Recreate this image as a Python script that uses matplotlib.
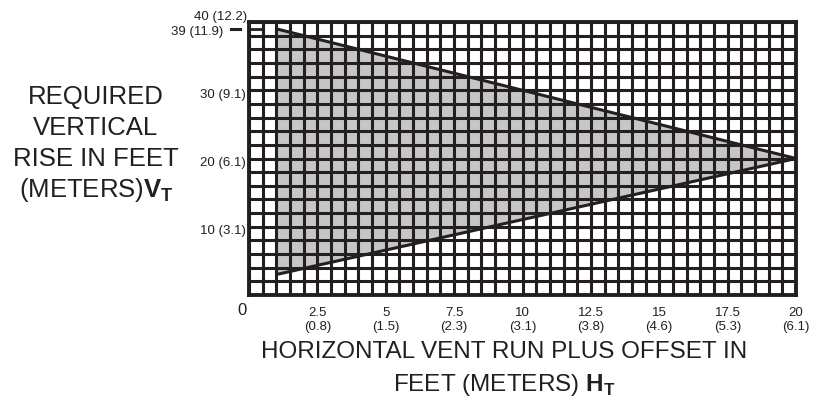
import matplotlib
matplotlib.use('Agg')
import matplotlib.pyplot as plt
import matplotlib.transforms as mtransforms
from matplotlib.ticker import MultipleLocator

plt.rcParams['font.family'] = ['Liberation Sans', 'DejaVu Sans']
plt.rcParams['mathtext.fontset'] = 'custom'
plt.rcParams['mathtext.rm'] = 'Liberation Sans'
plt.rcParams['mathtext.bf'] = 'Liberation Sans:bold'

# venting area (feet): run H_T vs rise V_T
area_x = [1, 1, 20]
area_y = [3, 39, 20]
upper_x = [1, 20]
upper_y = [39, 20]
lower_x = [1, 20]
lower_y = [3, 20]

x_ticks = [2.5, 5, 7.5, 10, 12.5, 15, 17.5, 20]
x_metric = ['0.8', '1.5', '2.3', '3.1', '3.8', '4.6', '5.3', '6.1']
y_ticks = [10, 20, 30]
y_metric = ['3.1', '6.1', '9.1']

text_col = '#231f20'
line_col = '#231f20'

fig = plt.figure(figsize=(8.18, 4.01), dpi=100)
ax = fig.add_axes([249 / 818, 1 - 295 / 401, 547 / 818, 273 / 401])

ax.fill(area_x, area_y, color='#c6c6c6', zorder=1, lw=0)
ax.plot(upper_x, upper_y, color=line_col, lw=2.2, zorder=3, solid_capstyle='butt')
ax.plot(lower_x, lower_y, color=line_col, lw=2.2, zorder=3, solid_capstyle='butt')
# short mark at 39 ft in first cell
ax.plot([0, 0.5], [39, 39], color=line_col, lw=2.0, zorder=3)

ax.set_xlim(0, 20)
ax.set_ylim(0, 40)
ax.xaxis.set_minor_locator(MultipleLocator(0.5))
ax.yaxis.set_minor_locator(MultipleLocator(2))
ax.set_axisbelow('line')
ax.grid(which='both', color=line_col, lw=2.2)

ax.set_xticks(x_ticks)
ax.set_xticklabels([f'{v:g}\n({m})' for v, m in zip(x_ticks, x_metric)],
                   fontsize=9.5, color=text_col, linespacing=1.15)
ax.set_yticks(y_ticks)
ax.set_yticklabels([f'{v} ({m})' for v, m in zip(y_ticks, y_metric)],
                   fontsize=9.5, color=text_col)
ax.tick_params(which='both', length=0)
ax.tick_params(axis='x', pad=9)
ax.tick_params(axis='y', pad=2)
# y labels sit a few pixels below their grid line in the original
shift = mtransforms.ScaledTranslation(0, -3 / 100, fig.dpi_scale_trans)
for lab in ax.get_yticklabels():
    lab.set_transform(lab.get_transform() + shift)
for s in ax.spines.values():
    s.set_linewidth(2.8)
    s.set_color(line_col)
    s.set_zorder(4)

# extra labels at top of y axis and origin
ax.text(-0.08, 40.8, '40 (12.2)', ha='right', va='center', fontsize=9.5,
        color=text_col, clip_on=False)
ax.text(-0.95, 38.6, '39 (11.9)', ha='right', va='center', fontsize=9.5,
        color=text_col, clip_on=False)
ax.plot([-0.66, -0.33], [39, 39], color=line_col, lw=2.2, clip_on=False)
ax.text(-0.08, -1.1, '0', ha='right', va='top', fontsize=12,
        color=text_col, clip_on=False)

# axis titles
for i, line in enumerate(['REQUIRED', 'VERTICAL', 'RISE IN FEET',
                          r'(METERS)$\mathbf{V}_\mathbf{T}$']):
    fig.text(96 / 818, 1 - (97 + 31 * i) / 401, line, ha='center', va='center',
             fontsize=18.5, color=text_col)

fig.text(504 / 818, 1 - 352 / 401, 'HORIZONTAL VENT RUN PLUS OFFSET IN',
         ha='center', va='center', fontsize=17.5, color=text_col)
fig.text(504 / 818, 1 - 385 / 401, r'FEET (METERS) $\mathbf{H}_\mathbf{T}$',
         ha='center', va='center', fontsize=17.5, color=text_col)

fig.savefig('out.png', dpi=100)
